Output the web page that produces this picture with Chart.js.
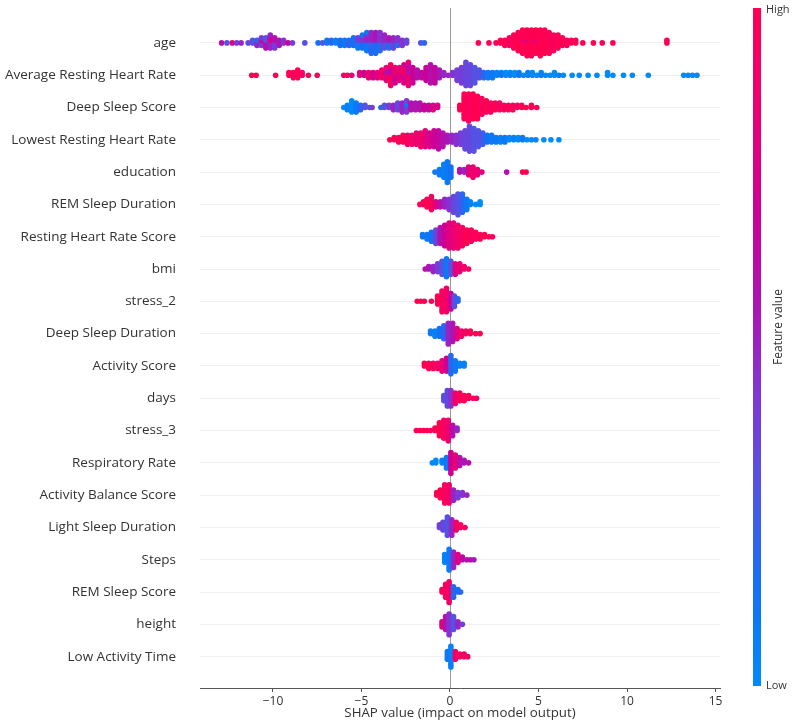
<!DOCTYPE html>
<html><head><meta charset="utf-8">
<script src="https://cdn.jsdelivr.net/npm/chart.js@4.4.1/dist/chart.umd.min.js"></script>
<style>html,body{margin:0;padding:0;background:#fff}canvas{display:block}</style>
</head><body>
<canvas id="c" width="809" height="724"></canvas>
<script>
const features = ["age","Average Resting Heart Rate","Deep Sleep Score","Lowest Resting Heart Rate","education","REM Sleep Duration","Resting Heart Rate Score","bmi","stress_2","Deep Sleep Duration","Activity Score","days","stress_3","Respiratory Rate","Activity Balance Score","Light Sleep Duration","Steps","REM Sleep Score","height","Low Activity Time"];
const xTicks = [-10,-5,0,5,10,15];
const xTitle = "SHAP value (impact on model output)";

// groups of samples: [SHAP value, number of samples, feature value (0 = low, 1 = high)]
const age = [[-12.9,1,.6],[-12.6,1,.3],[-12.3,1,.8],[-12.05,1,.4],[-11.8,1,.5],[-11.4,1,.35],[-11.15,2,.3],[-10.9,2,.5],[-10.9,1,.2],[-10.65,3,.4],[-10.65,1,.7],[-10.4,3,.6],[-10.4,2,.3],[-10.15,4,.5],[-10.15,2,.75],[-9.9,3,.4],[-9.9,2,.6],[-9.65,3,.55],[-9.4,2,.45],[-9.15,1,.7],[-8.9,1,.4],[-8.2,1,.3],[-7.45,1,.15],[-7.2,1,.3],[-6.95,2,.1],[-6.7,2,.2],[-6.45,2,.05],[-6.2,3,.15],[-5.95,3,.1],[-5.7,3,.2],[-5.45,4,.15],[-5.2,3,.1],[-5.2,2,.4],[-4.95,4,.15],[-4.95,2,.45],[-4.7,5,.1],[-4.7,3,.5],[-4.45,5,.2],[-4.45,4,.5],[-4.2,5,.15],[-4.2,4,.55],[-3.95,4,.2],[-3.95,4,.45],[-3.7,3,.3],[-3.7,3,.5],[-3.45,3,.2],[-3.45,2,.55],[-3.2,3,.35],[-3.2,2,.5],[-2.95,2,.2],[-2.95,2,.45],[-2.7,3,.45],[-2.45,2,.35],[-1.65,1,.3],[-1.45,1,.2],
  [1.6,1,1],[2.2,1,1],[2.6,1,.95],[2.85,2,1],[3.1,3,1],[3.35,4,.95],[3.6,6,1],[3.85,8,1],[4.1,9,1],[4.1,1,.8],[4.35,10,1],[4.35,1,.85],[4.6,11,1],[4.85,9,1],[4.85,1,.8],[5.1,11,1],[5.35,10,1],[5.6,9,1],[5.85,7,.95],[6.1,6,1],[6.35,4,1],[6.6,3,.95],[6.85,2,1],[7.1,2,1],[7.5,1,1],[8.1,1,1],[8.6,1,.95],[9.2,1,1],[12.25,2,1]];
const avgRestingHR = [[-11.2,1,1],[-10.95,1,1],[-9.85,1,1],[-9.1,2,1],[-8.85,3,.95],[-8.6,4,1],[-8.35,2,.9],[-8.0,1,1],[-7.5,1,.95],[-6.0,1,.9],[-5.8,1,1],[-5.55,1,.85],[-5.1,2,.8],[-4.85,2,.7],[-4.6,3,.85],[-4.35,3,.75],[-4.1,3,.8],[-3.85,4,.9],[-3.6,4,.85],[-3.6,2,.6],[-3.35,6,.95],[-3.35,3,.65],[-3.1,4,.7],[-3.1,3,.9],[-2.85,6,.8],[-2.6,5,.75],[-2.6,3,.95],[-2.35,6,.85],[-2.35,4,.6],[-2.1,7,.7],[-1.85,4,.6],[-1.6,3,.65],[-1.35,6,.7],[-1.1,8,.6],[-0.85,7,.65],[-0.6,4,.55],[-0.35,2,.5],[-0.1,1,.5],[0.15,2,.45],[0.4,5,.4],[0.65,7,.4],[0.9,10,.35],[1.15,9,.35],[1.4,7,.3],[1.65,4,.3],[1.9,3,.2],[2.15,3,.1],[2.4,3,.1],[2.65,2,.05],[2.9,2,.1],[3.15,2,0],[3.4,2,.05],[3.65,2,0],[3.9,2,.1],[4.15,1,0],[4.4,2,.05],[4.65,2,0],[4.9,1,0],[5.15,2,.05],[5.4,1,0],[5.65,1,0],[5.9,2,0],[6.15,1,.05],[6.4,1,0],[6.9,1,0],[7.3,1,0],[7.8,1,0],[8.3,1,0],[8.9,2,0],[9.2,1,0],[9.8,1,0],[10.3,1,0],[11.2,1,0],[13.2,1,0],[13.45,1,0],[13.7,1,0],[13.95,1,0]];
const deepSleepScore = [[-6.0,1,0],[-5.8,3,.05],[-5.55,6,0],[-5.3,5,.1],[-5.05,3,.2],[-4.8,2,.3],[-4.55,1,.3],[-4.4,1,.4],[-3.9,1,.2],[-3.7,2,.3],[-3.45,2,.4],[-3.2,3,.5],[-2.95,4,.35],[-2.7,5,.5],[-2.45,4,.4],[-2.45,2,.1],[-2.2,4,.6],[-1.95,4,.55],[-1.7,4,.6],[-1.45,3,.7],[-1.2,3,.65],[-0.95,3,.8],[-0.7,2,.75],
  [0.55,3,1],[0.8,12,1],[1.05,13,.95],[1.3,12,1],[1.55,11,1],[1.8,8,.95],[2.05,6,1],[2.3,5,.95],[2.55,4,1],[2.8,4,.9],[3.05,3,1],[3.3,3,.95],[3.55,3,1],[3.8,2,.9],[4.05,2,1],[4.3,1,1],[4.6,2,1],[4.9,1,.95]];
const lowestRestingHR = [[-3.4,1,1],[-3.15,2,1],[-2.9,3,.95],[-2.65,4,1],[-2.4,5,.9],[-2.15,5,.95],[-1.9,6,.85],[-1.65,7,.9],[-1.4,8,.8],[-1.15,7,.75],[-0.9,8,.7],[-0.65,9,.65],[-0.4,7,.6],[-0.15,4,.55],[0.1,4,.5],[0.35,5,.45],[0.6,6,.4],[0.85,9,.35],[1.1,12,.35],[1.35,11,.3],[1.6,8,.3],[1.85,6,.25],[2.1,4,.15],[2.35,4,.1],[2.6,3,.1],[2.85,3,.05],[3.1,3,.1],[3.35,2,0],[3.6,2,.05],[3.85,2,0],[4.1,2,.1],[4.35,1,0],[4.6,1,0],[4.85,1,.05],[5.3,1,0],[5.7,1,0],[6.15,1,0]];
const education = [[-0.85,1,.1],[-0.6,3,.1],[-0.35,6,.05],[-0.15,9,.1],[0.05,5,.15],[0.55,2,.6],[0.8,2,.5],[1.05,4,.8],[1.3,5,.9],[1.55,3,.85],[1.8,1,.8],[3.2,1,.6],[4.1,1,1],[4.3,1,1]];
const remSleepDuration = [[-1.7,1,1],[-1.5,2,.95],[-1.3,4,1],[-1.05,6,.95],[-0.8,3,.8],[-0.55,3,.6],[-0.3,4,.5],[-0.05,5,.45],[0.2,7,.35],[0.45,9,.3],[0.7,8,.2],[0.95,5,.1],[1.15,2,.05],[1.45,1,0],[1.7,2,0]];
const restingHRScore = [[-1.55,2,.1],[-1.3,3,.1],[-1.05,5,.15],[-0.8,7,.35],[-0.55,8,.6],[-0.3,10,.7],[-0.05,12,.8],[0.2,12,.85],[0.45,11,.9],[0.7,9,.95],[0.95,7,1],[1.2,6,.95],[1.45,4,1],[1.7,3,.95],[1.95,2,1],[2.2,1,1],[2.4,1,.95]];
const bmi = [[-1.4,1,.6],[-1.2,2,.55],[-0.95,3,.5],[-0.7,4,.4],[-0.45,6,.3],[-0.2,8,.1],[0.05,6,.3],[0.3,5,.8],[0.55,4,.85],[0.8,2,.9],[1.05,1,.95]];
const stress2 = [[-1.85,1,1],[-1.65,1,1],[-1.45,1,1],[-1.05,1,1],[-0.7,4,1],[-0.45,9,.95],[-0.2,10,.9],[0.05,7,.7],[0.25,5,.3],[0.45,2,.2]];
const deepSleepDuration = [[-1.1,2,.1],[-0.85,3,.05],[-0.6,4,.15],[-0.35,6,.2],[-0.1,9,.5],[0.15,8,.55],[0.4,5,.8],[0.65,3,.9],[0.9,2,.95],[1.15,2,1],[1.45,1,1],[1.7,1,1]];
const activityScore = [[-1.45,2,1],[-1.2,3,1],[-0.95,3,.95],[-0.7,3,.9],[-0.45,5,.85],[-0.2,6,.7],[0.05,8,.2],[0.3,5,.1],[0.55,2,.05],[0.8,2,.05]];
const days = [[-0.35,3,.3],[-0.15,7,.35],[0.05,7,.45],[0.3,5,.9],[0.55,4,.95],[0.8,3,1],[1.05,2,.95],[1.3,1,1],[1.5,1,.9]];
const stress3 = [[-1.9,1,1],[-1.7,1,1],[-1.5,1,1],[-1.3,1,1],[-1.1,1,.95],[-0.85,2,1],[-0.6,6,1],[-0.35,8,.95],[-0.1,9,.85],[0.15,5,.6],[0.4,2,.5]];
const respiratoryRate = [[-1.0,1,0],[-0.8,2,0],[-0.45,2,.05],[-0.2,5,.1],[0.05,9,.7],[0.3,6,.85],[0.55,4,.6],[0.8,2,.55],[1.05,1,.6]];
const activityBalance = [[-0.75,2,1],[-0.55,4,1],[-0.3,8,.95],[-0.05,8,.9],[0.2,5,.5],[0.45,3,.4],[0.7,2,.45],[0.95,1,.5]];
const lightSleepDuration = [[-0.6,2,.4],[-0.4,4,.35],[-0.15,8,.3],[0.1,7,.5],[0.35,4,.9],[0.6,2,.95],[0.85,1,.9]];
const steps = [[-0.3,4,.05],[-0.05,9,.1],[0.2,7,.5],[0.45,4,.8],[0.7,2,.65],[0.95,1,.6],[1.15,1,.6],[1.35,1,.55]];
const remSleepScore = [[-0.45,2,1],[-0.25,6,.95],[-0.05,9,.9],[0.2,5,.2],[0.45,2,.15],[0.6,1,.2]];
const height = [[-0.45,3,.8],[-0.25,6,.6],[-0.05,9,.45],[0.2,6,.3],[0.45,3,.5],[0.7,1,.4]];
const lowActivityTime = [[-0.15,4,.1],[0.05,9,.05],[0.3,4,.9],[0.55,2,.95],[0.8,2,.9],[1.0,1,.95]];

const rows = [age,avgRestingHR,deepSleepScore,lowestRestingHR,education,remSleepDuration,restingHRScore,bmi,stress2,deepSleepDuration,activityScore,days,stress3,respiratoryRate,activityBalance,lightSleepDuration,steps,remSleepScore,height,lowActivityTime];

// SHAP red_blue colormap approximation
const cmap = [[0,[0,138,250]],[0.15,[20,112,245]],[0.3,[85,82,228]],[0.45,[135,50,208]],[0.55,[170,22,182]],[0.7,[205,0,150]],[0.85,[235,0,115]],[1,[255,0,82]]];
function colorFor(f){
  for(let i=1;i<cmap.length;i++){
    if(f<=cmap[i][0]){
      const [a,ca]=cmap[i-1],[b,cb]=cmap[i];
      const t=(f-a)/(b-a);
      return 'rgb('+ca.map((v,j)=>Math.round(v+(cb[j]-v)*t)).join(',')+')';
    }
  }
  return 'rgb(255,0,82)';
}

const LAYER = 0.08, CAP = 0.42;
function swarm(groups,row){
  const byX=new Map();
  groups.forEach(([x,n,f])=>{ if(!byX.has(x)) byX.set(x,[]); byX.get(x).push(Array(n).fill(f)); });
  const raw=[]; let maxOff=0;
  byX.forEach((lists,x)=>{
    const fs=[]; let any=true;
    while(any){ any=false; lists.forEach(l=>{ if(l.length){ fs.push(l.shift()); any=true; } }); }
    fs.forEach((f,k)=>{ const layer=Math.ceil(k/2); const s=k%2?-1:1; const off=s*layer*LAYER; raw.push([x,off,f]); maxOff=Math.max(maxOff,Math.abs(off)); });
  });
  const sc = maxOff>CAP ? CAP/maxOff : 1;
  return {data: raw.map(([x,o])=>({x, y: row+o*sc})), colors: raw.map(r=>colorFor(r[2]))};
}

const datasets = rows.map((g,i)=>{
  const s=swarm(g,i);
  return {data:s.data, backgroundColor:s.colors, pointBackgroundColor:s.colors, pointBorderWidth:0, pointRadius:2.8, pointHoverRadius:2.8};
}).reverse();

const FONT = "'Open Sans', 'DejaVu Sans', sans-serif";
const TXT = '#333';

const extras = {
  id:'extras',
  beforeDatasetsDraw(chart){
    const {ctx, chartArea, scales:{x}} = chart;
    const px = Math.round(x.getPixelForValue(0))+0.5;
    ctx.save(); ctx.strokeStyle='#999'; ctx.lineWidth=1;
    ctx.beginPath(); ctx.moveTo(px, chartArea.top); ctx.lineTo(px, chartArea.bottom); ctx.stroke(); ctx.restore();
  },
  afterDraw(chart){
    const {ctx} = chart;
    const x0=753, w=8, top=8, bot=686;
    const g = ctx.createLinearGradient(0,top,0,bot);
    cmap.forEach(([s,c])=>g.addColorStop(1-s,'rgb('+c.join(',')+')'));
    ctx.save();
    ctx.fillStyle=g; ctx.fillRect(x0,top,w,bot-top);
    ctx.fillStyle=TXT; ctx.font="11px "+FONT; ctx.textBaseline='middle'; ctx.textAlign='left';
    ctx.fillText('High', x0+w+5, top+2);
    ctx.fillText('Low', x0+w+5, bot);
    ctx.translate(779, 327); ctx.rotate(-Math.PI/2); ctx.textAlign='center';
    ctx.font="12px "+FONT;
    ctx.fillText('Feature value',0,0);
    ctx.restore();
  }
};

new Chart(document.getElementById('c'),{
  type:'scatter',
  data:{datasets},
  plugins:[extras],
  options:{
    responsive:false, animation:false, events:[],
    layout:{autoPadding:false, padding:{left:0,right:89,top:8,bottom:0}},
    plugins:{legend:{display:false},tooltip:{enabled:false}},
    scales:{
      x:{type:'linear',min:-14.12,max:15.25,
        afterBuildTicks(s){ s.ticks = xTicks.map(v=>({value:v})); },
        afterFit(s){ s.height=36; s.paddingLeft=0; s.paddingRight=0; },
        ticks:{color:TXT,font:{family:FONT,size:12},padding:2,callback:v=> v<0 ? '\u2212'+Math.abs(v) : String(v)},
        grid:{display:true,drawOnChartArea:false,drawTicks:true,tickLength:4,color:'#555'},
        border:{display:true,color:'#555',width:1},
        title:{display:true,text:xTitle,color:TXT,font:{family:FONT,size:13.3},padding:{top:0,bottom:3}}
      },
      y:{type:'linear',min:-1.08,max:19.97,reverse:true,
        afterBuildTicks(s){ s.ticks = features.map((_,i)=>({value:i})); },
        afterFit(s){ s.width=200; s.paddingTop=0; s.paddingBottom=0; },
        ticks:{color:TXT,font:{family:FONT,size:13.5},padding:24,callback:v=>features[v]},
        grid:{display:true,drawTicks:false,color:'rgba(0,0,0,0.06)',lineWidth:1},
        border:{display:false}
      }
    }
  }
});
</script>
</body></html>
